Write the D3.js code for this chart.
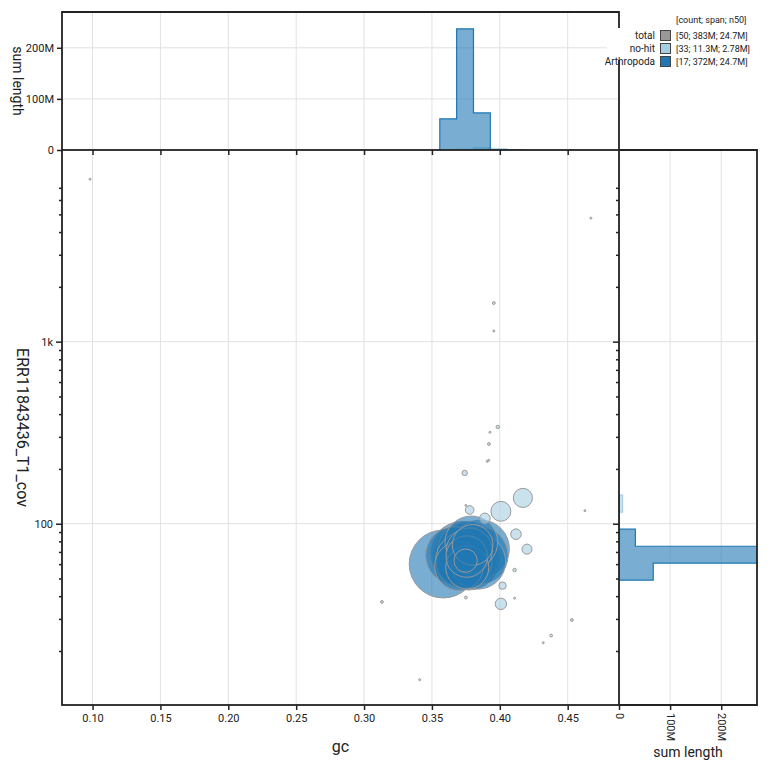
<!DOCTYPE html>
<html><head><meta charset="utf-8">
<script src="https://cdn.jsdelivr.net/npm/d3@7"></script>
<style>body{margin:0;background:#fff} svg{display:block;font-family:Roboto, "Noto Sans", sans-serif}</style>
</head><body>
<svg id="chart" width="770" height="770"></svg>
<script>
// ---------- data ----------
const legendLabels = ["total", "no-hit", "Arthropoda"];
const legendValues = ["[50; 383M; 24.7M]", "[33; 11.3M; 2.78M]", "[17; 372M; 24.7M]"];
const legendColors = ["#999999", "#a6cee3", "#1f78b4"];
const legendHeader = "[count; span; n50]";

// Arthropoda contigs (gc, coverage, length in Mb)
const arthGc  = [0.3583, 0.3665, 0.3745, 0.3720, 0.3770, 0.3760, 0.3735, 0.3790, 0.3700, 0.3775, 0.3756, 0.3760, 0.3800, 0.3748, 0.3860, 0.3850, 0.3840];
const arthCov = [60.1, 67, 66.5, 69, 64, 70.5, 63, 79, 58.5, 71, 66, 57.5, 76.5, 62.7, 73, 67, 62];
const arthLen = [35, 25, 31, 30, 29, 27, 24, 21, 18, 16, 13, 14, 12.5, 4.1, 24.7, 24.7, 23];

// no-hit contigs (gc, coverage, length in Mb)
const nohitGc  = [0.0982, 0.4671, 0.3956, 0.3956, 0.3985, 0.3927, 0.3920, 0.3918, 0.3907, 0.3741, 0.3750, 0.3778, 0.3890, 0.4008, 0.4170, 0.4119, 0.4200, 0.4109, 0.4020, 0.4109, 0.4008, 0.3750, 0.3132, 0.4531, 0.4378, 0.4320, 0.3410, 0.4627];
const nohitCov = [7807, 4770, 1630, 1145, 340, 318, 274, 223, 220, 190, 126, 119, 107, 117, 138.6, 87.6, 72.5, 55.7, 45.7, 39, 36.3, 39.3, 37.2, 29.6, 24.3, 22.2, 13.9, 118];
const nohitLen = [0.03, 0.03, 0.06, 0.03, 0.09, 0.03, 0.06, 0.03, 0.03, 0.22, 0.03, 0.56, 0.85, 3.0, 2.78, 0.85, 0.76, 0.09, 0.41, 0.03, 0.98, 0.06, 0.06, 0.06, 0.06, 0.03, 0.03, 0.03];

// top histogram (gc bins, sum length Mb)
const gcBinEdges = [0.3558, 0.3682, 0.3806, 0.3930, 0.4053, 0.4177];
const gcHistArth = [61, 237, 72.6, 0, 0];
const gcHistNohit = [0.5, 1.5, 4.3, 2.3, 0];

// right histogram (coverage bins, sum length Mb)
const covBinEdges = [49.0, 60.7, 75.2, 93.3, 115.7, 143.4];
const covHistArth = [67, 273, 32, 0, 0];
const covHistNohit = [0.4, 0.9, 1.2, 0.9, 7];

// ticks
const xTicks = [0.10, 0.15, 0.20, 0.25, 0.30, 0.35, 0.40, 0.45];
const yMajorTicks = [100, 1000];
const yMajorLabels = ["100", "1k"];
const yMinorTicks = [20, 30, 40, 50, 60, 70, 80, 90, 200, 300, 400, 500, 600, 700, 800, 900, 2000, 3000, 4000, 5000, 6000, 7000];
const histTicks = [0, 100, 200];
const histTickLabels = ["0", "100M", "200M"];

// ---------- layout ----------
const svg = d3.select("#chart");
const L = 62, R = 619, T = 150, B = 705;
const topT = 12, rightR = 757;
const ink = "#222";
const grid = "#e2e2e2";

const x = d3.scaleLinear().domain([0.0775, 0.4878]).range([L, R]);
const y = d3.scaleLog().domain([10.1, 11290]).range([B, T]);
const hy = d3.scaleLinear().domain([0, 270]).range([T, topT]);
const hx = d3.scaleLinear().domain([0, 270]).range([R, rightR]);
const rScale = d3.scaleSqrt().domain([0, 35]).range([0, 34]);

const defs = svg.append("defs");
defs.append("clipPath").attr("id", "clipMain").append("rect").attr("x", L).attr("y", T).attr("width", R - L).attr("height", B - T);
defs.append("clipPath").attr("id", "clipTop").append("rect").attr("x", L).attr("y", topT).attr("width", R - L).attr("height", T - topT);
defs.append("clipPath").attr("id", "clipRight").append("rect").attr("x", R).attr("y", T).attr("width", rightR - R).attr("height", B - T);

// ---------- grids ----------
const gGrid = svg.append("g");
xTicks.forEach(t => {
  gGrid.append("line").attr("x1", x(t)).attr("x2", x(t)).attr("y1", topT).attr("y2", B).attr("stroke", grid);
});
yMajorTicks.forEach(t => {
  gGrid.append("line").attr("x1", L).attr("x2", rightR).attr("y1", y(t)).attr("y2", y(t)).attr("stroke", grid);
});
histTicks.slice(1).forEach(t => {
  gGrid.append("line").attr("x1", L).attr("x2", R).attr("y1", hy(t)).attr("y2", hy(t)).attr("stroke", grid);
  gGrid.append("line").attr("x1", hx(t)).attr("x2", hx(t)).attr("y1", T).attr("y2", B).attr("stroke", grid);
});

// ---------- scatter ----------
const points = [];
arthGc.forEach((g, i) => points.push({gc: g, cov: arthCov[i], len: arthLen[i], c: legendColors[2]}));
nohitGc.forEach((g, i) => points.push({gc: g, cov: nohitCov[i], len: nohitLen[i], c: legendColors[1]}));
points.sort((a, b) => b.len - a.len);
svg.append("g").attr("clip-path", "url(#clipMain)")
  .selectAll("circle").data(points).join("circle")
  .attr("cx", d => x(d.gc)).attr("cy", d => y(d.cov)).attr("r", d => rScale(d.len))
  .attr("fill", d => d.c).attr("fill-opacity", 0.6)
  .attr("stroke", "#999").attr("stroke-width", 1);

// ---------- top histogram ----------
function stepPts(edges, vals) {
  const p = [[edges[0], 0]];
  vals.forEach((v, i) => { p.push([edges[i], v]); p.push([edges[i + 1], v]); });
  p.push([edges[edges.length - 1], 0]);
  return p;
}
const topG = svg.append("g").attr("clip-path", "url(#clipTop)");
[[gcHistNohit, legendColors[1]], [gcHistArth, legendColors[2]]].forEach(([vals, c]) => {
  const line = d3.line().x(d => x(d[0])).y(d => hy(d[1]));
  topG.append("path").attr("d", line(stepPts(gcBinEdges, vals)))
    .attr("fill", c).attr("fill-opacity", 0.6).attr("stroke", c).attr("stroke-width", 1.2);
});

// ---------- right histogram ----------
const rightG = svg.append("g").attr("clip-path", "url(#clipRight)");
[[covHistNohit, legendColors[1]], [covHistArth, legendColors[2]]].forEach(([vals, c]) => {
  const line = d3.line().x(d => hx(d[1])).y(d => y(d[0]));
  rightG.append("path").attr("d", line(stepPts(covBinEdges, vals)))
    .attr("fill", c).attr("fill-opacity", 0.6).attr("stroke", c).attr("stroke-width", 1.2);
});

// ---------- axes ----------
function styleAxis(g) {
  g.select(".domain").remove();
  g.selectAll(".tick line").attr("stroke", ink).attr("stroke-width", 1.5);
  g.selectAll(".tick text").attr("fill", ink).attr("font-size", 11).attr("font-family", "Roboto, sans-serif");
}
// main bottom x-axis
svg.append("g").attr("transform", `translate(0,${B})`)
  .call(d3.axisBottom(x).tickValues(xTicks).tickFormat(d3.format(".2f")).tickSize(5).tickPadding(4)).call(styleAxis);
// top hist bottom axis (ticks into main)
svg.append("g").attr("transform", `translate(0,${T})`)
  .call(d3.axisBottom(x).tickValues(xTicks).tickFormat("").tickSize(5)).call(styleAxis);
// main left y-axis
svg.append("g").attr("transform", `translate(${L},0)`)
  .call(d3.axisLeft(y).tickValues(yMinorTicks).tickFormat("").tickSize(3)).call(styleAxis);
svg.append("g").attr("transform", `translate(${L},0)`)
  .call(d3.axisLeft(y).tickValues(yMajorTicks).tickFormat((d, i) => yMajorLabels[i]).tickSize(6).tickPadding(3)).call(styleAxis);
// right hist left axis (ticks into main)
svg.append("g").attr("transform", `translate(${R},0)`)
  .call(d3.axisLeft(y).tickValues(yMinorTicks).tickFormat("").tickSize(3)).call(styleAxis);
svg.append("g").attr("transform", `translate(${R},0)`)
  .call(d3.axisLeft(y).tickValues(yMajorTicks).tickFormat("").tickSize(6)).call(styleAxis);
// top hist y-axis
svg.append("g").attr("transform", `translate(${L},0)`)
  .call(d3.axisLeft(hy).tickValues(histTicks).tickFormat((d, i) => histTickLabels[i]).tickSize(5).tickPadding(3)).call(styleAxis);
// right hist x-axis
const rx = svg.append("g").attr("transform", `translate(0,${B})`)
  .call(d3.axisBottom(hx).tickValues(histTicks).tickFormat((d, i) => histTickLabels[i]).tickSize(5)).call(styleAxis);
rx.selectAll(".tick text").attr("transform", "rotate(90)").attr("text-anchor", "start")
  .attr("x", 8).attr("y", 0).attr("dy", "0.35em");

// ---------- frames ----------
const fr = svg.append("g").attr("fill", "none").attr("stroke", ink).attr("stroke-width", 1.8);
fr.append("rect").attr("x", L).attr("y", T).attr("width", R - L).attr("height", B - T);
fr.append("path").attr("d", `M${L},${T}V${topT}H${R}V${T}`);
fr.append("path").attr("d", `M${R},${T}H${rightR}V${B}H${R}`);

// ---------- titles ----------
svg.append("text").attr("x", (L + R) / 2).attr("y", 752).attr("text-anchor", "middle")
  .attr("font-size", 16).attr("fill", ink).text("gc");
svg.append("text").attr("transform", `translate(17,${(T + B) / 2}) rotate(90)`).attr("text-anchor", "middle")
  .attr("font-size", 16).attr("fill", ink).text("ERR11843436_T1_cov");
svg.append("text").attr("transform", `translate(13,${(topT + T) / 2}) rotate(90)`).attr("text-anchor", "middle")
  .attr("font-size", 14).attr("fill", ink).text("sum length");
svg.append("text").attr("x", (R + rightR) / 2).attr("y", 757).attr("text-anchor", "middle")
  .attr("font-size", 14).attr("fill", ink).text("sum length");

// ---------- legend ----------
const lg = svg.append("g");
lg.append("rect").attr("x", 607).attr("y", 28).attr("width", 163).attr("height", 32).attr("fill", "#fff");
lg.append("text").attr("x", 676).attr("y", 20).attr("dy", "0.35em").attr("font-size", 9).attr("fill", ink).text(legendHeader);
legendLabels.forEach((lab, i) => {
  const cy = 35.5 + i * 13;
  lg.append("text").attr("x", 655).attr("y", cy).attr("dy", "0.35em").attr("text-anchor", "end")
    .attr("font-size", 10).attr("fill", ink).text(lab);
  lg.append("rect").attr("x", 660.5).attr("y", cy - 5).attr("width", 10).attr("height", 10)
    .attr("fill", legendColors[i]).attr("stroke", "#444").attr("stroke-width", 1);
  lg.append("text").attr("x", 676).attr("y", cy).attr("dy", "0.35em")
    .attr("font-size", 9).attr("fill", ink).text(legendValues[i]);
});
</script>
</body></html>
